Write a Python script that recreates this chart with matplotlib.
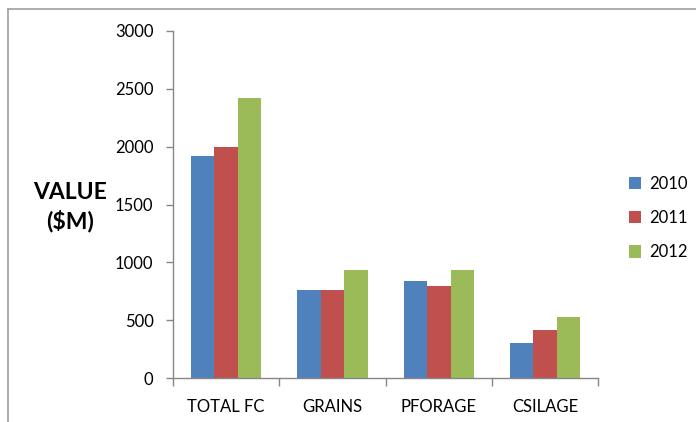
import matplotlib
matplotlib.use("Agg")
import matplotlib.pyplot as plt
from matplotlib.patches import Patch
from matplotlib.lines import Line2D
import numpy as np

plt.rcParams['font.family'] = ['Lato', 'DejaVu Sans']

categories = ["TOTAL FC", "GRAINS", "PFORAGE", "CSILAGE"]
years = ["2010", "2011", "2012"]
values_2010 = [1920, 760, 840, 305]
values_2011 = [2000, 760, 800, 420]
values_2012 = [2420, 935, 935, 525]
yticks = [0, 500, 1000, 1500, 2000, 2500, 3000]

series = [values_2010, values_2011, values_2012]
colors = ["#4F81BD", "#C0504D", "#9BBB59"]
axis_gray = "#868686"

fig = plt.figure(figsize=(6.96, 4.22), dpi=100)
ax = fig.add_axes([173/696, 1-378.3/422, (598.3-173)/696, (378.3-30.7)/422])

x = np.arange(len(categories))
w = 0.22
for i, (vals, c) in enumerate(zip(series, colors)):
    ax.bar(x + (i-1)*w, vals, width=w, color=c, label=years[i], linewidth=0)

ax.set_xlim(-0.5, len(categories)-0.5)
ax.set_ylim(0, 3000)
ax.set_yticks(yticks)
ax.set_xticks(x)
ax.set_xticklabels(categories)
ax.set_xticks(np.arange(len(categories)+1)-0.5, minor=True)
ax.tick_params(axis='x', which='major', length=0, pad=15, labelsize=12)
ax.tick_params(axis='x', which='minor', length=6, width=1, color=axis_gray, direction='out')
ax.tick_params(axis='y', length=5, width=1, color=axis_gray, pad=9, labelsize=12)
for s in ['top', 'right']:
    ax.spines[s].set_visible(False)
for s in ['left', 'bottom']:
    ax.spines[s].set_color(axis_gray)
    ax.spines[s].set_linewidth(1)

fig.text(70/696, 1-207/422, "VALUE\n($M)", ha='center', va='center',
         fontsize=16.5, fontweight='bold', linespacing=1.35)

handles = [Patch(facecolor=c, edgecolor='none') for c in colors]
fig.legend(handles, years, loc='center left', bbox_to_anchor=(622/696, 1-218/422),
           frameon=False, fontsize=12, handlelength=0.75, handleheight=0.75,
           handletextpad=0.5, labelspacing=1.1, borderaxespad=0)

# outer chart frame (top and left edges)
fig.add_artist(Line2D([7.5/696, 7.5/696], [0, 1-9/422], color="#A0A0A0", lw=1.2,
                      transform=fig.transFigure))
fig.add_artist(Line2D([7.5/696, 1], [1-9/422, 1-9/422], color="#A0A0A0", lw=1.2,
                      transform=fig.transFigure))

fig.savefig("out.png", dpi=100, facecolor="white")
